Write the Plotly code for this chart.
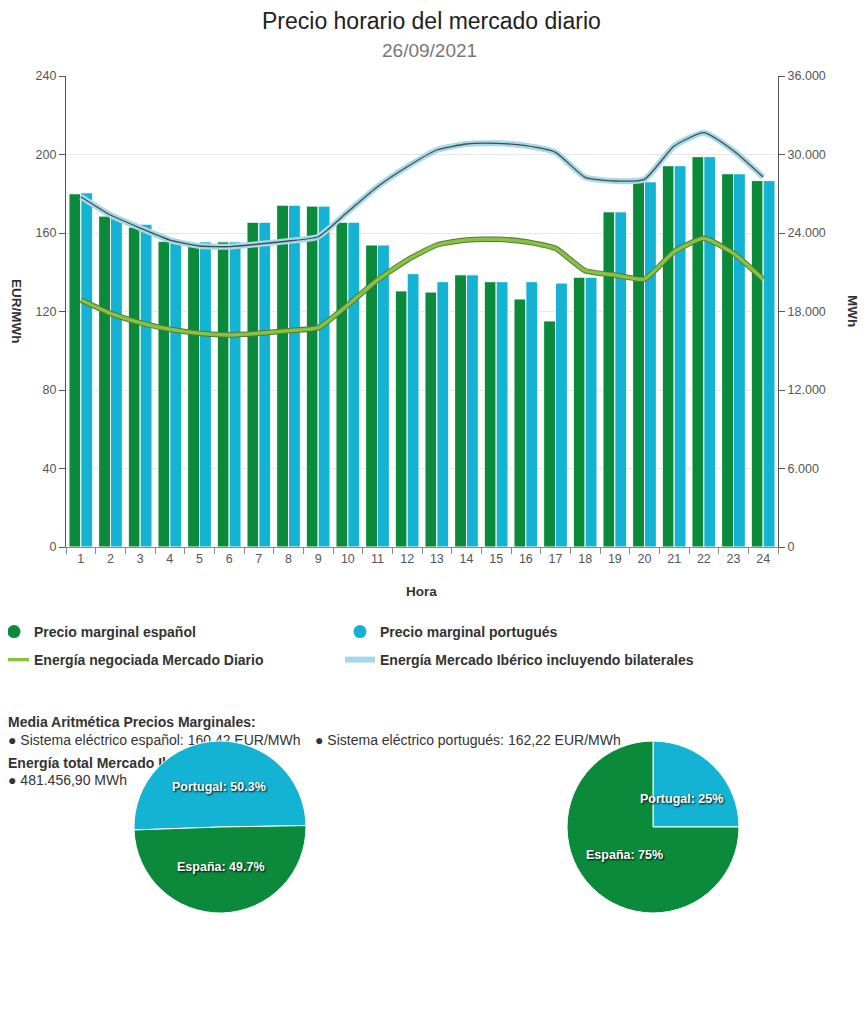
import math
import plotly.graph_objects as go

# the page body adds an 8px margin; the figure is sized to fit the 866x1024 window
OFF = 8
W, H = 866 - OFF, 1024 - OFF

# ---------------- data ----------------
horas = [str(h) for h in range(1, 25)]
precio_es = [180.0, 168.6, 163.0, 155.8, 154.3, 155.5, 165.5, 174.2, 173.7, 165.5, 153.9, 130.5,
             129.9, 138.7, 135.2, 126.4, 115.2, 137.5, 170.8, 186.1, 194.3, 198.9, 190.2, 186.7]
precio_pt = [180.5, 168.0, 164.5, 155.5, 155.5, 155.5, 165.5, 174.2, 173.7, 165.5, 153.9, 139.3,
             135.2, 138.7, 135.2, 135.2, 134.5, 137.5, 170.8, 186.1, 194.3, 198.9, 190.2, 186.7]
energia_diario = [18878, 17861, 17143, 16638, 16332, 16203, 16332, 16536, 16766, 18496, 20407, 21935,
                  23082, 23464, 23515, 23336, 22827, 21120, 20790, 20483, 22571, 23591, 22446, 20458]
energia_iberico = [26775, 25375, 24380, 23464, 23005, 22952, 23158, 23387, 23716, 25627, 27538, 29066,
                   30343, 30801, 30854, 30671, 30165, 28256, 27973, 28104, 30648, 31666, 30289, 28282]
left_ticks = [0, 40, 80, 120, 160, 200, 240]
right_ticks = [0, 6000, 12000, 18000, 24000, 30000, 36000]
right_ticklabels = ["0", "6.000", "12.000", "18.000", "24.000", "30.000", "36.000"]
pie_labels = ["Portugal", "España"]
pie1_values = [50.3, 49.7]
pie2_values = [25, 75]

titulo = "Precio horario del mercado diario"
subtitulo = "26/09/2021"
media_titulo = "Media Aritmética Precios Marginales:"
media_es = "● Sistema eléctrico español: 160,42 EUR/MWh"
media_pt = "● Sistema eléctrico portugués: 162,22 EUR/MWh"
energia_titulo = "Energía total Mercado Ibérico:"
energia_total = "● 481.456,90 MWh"

# ---------------- styles ----------------
GREEN = "#0b8a3c"
BLUE = "#14b3d4"
LGREEN = "#86c440"
LBLUE = "#a6d9e8"
FONT = "Liberation Sans"


def py(v):
    return 1 - (v - OFF) / H


def px(v):
    return (v - OFF) / W


fig = go.Figure()

fig.add_trace(go.Bar(x=horas, y=precio_es, name="Precio marginal español",
                     marker=dict(color=GREEN, line=dict(color="white", width=1)),
                     showlegend=False, xaxis="x", yaxis="y"))
fig.add_trace(go.Bar(x=horas, y=precio_pt, name="Precio marginal portugués",
                     marker=dict(color=BLUE, line=dict(color="white", width=1)),
                     showlegend=False, xaxis="x", yaxis="y"))

# lines (dark shadow + colored)
fig.add_trace(go.Scatter(x=horas, y=energia_diario, mode="lines",
                         line=dict(color="#56763a", width=5.5, shape="spline", smoothing=0.5),
                         showlegend=False, hoverinfo="skip", xaxis="x", yaxis="y3"))
fig.add_trace(go.Scatter(x=horas, y=energia_diario, mode="lines", name="Energía negociada Mercado Diario",
                         line=dict(color=LGREEN, width=3.5, shape="spline", smoothing=0.5),
                         legend="legend3", xaxis="x", yaxis="y3"))
fig.add_trace(go.Scatter(x=horas, y=energia_iberico, mode="lines", name="Energía Mercado Ibérico incluyendo bilaterales",
                         line=dict(color=LBLUE, width=6, shape="spline", smoothing=0.5),
                         legend="legend4", xaxis="x", yaxis="y3"))
fig.add_trace(go.Scatter(x=horas, y=energia_iberico, mode="lines",
                         line=dict(color="#454b50", width=1.3, shape="spline", smoothing=0.5),
                         showlegend=False, hoverinfo="skip", xaxis="x", yaxis="y3"))

# legend entries for the bar series (circle symbols)
fig.add_trace(go.Scatter(x=[None], y=[None], mode="markers", name="Precio marginal español",
                         marker=dict(color=GREEN, size=13, symbol="circle"), legend="legend",
                         xaxis="x", yaxis="y"))
fig.add_trace(go.Scatter(x=[None], y=[None], mode="markers", name="Precio marginal portugués",
                         marker=dict(color=BLUE, size=13, symbol="circle"), legend="legend2",
                         xaxis="x", yaxis="y"))

# text block (cartesian layer so the pies cover it); axes x2/y2 use page pixels
fig.add_trace(go.Scatter(
    x=[8, 8, 315, 8, 8], y=[723, 741, 741, 764, 781],
    text=["<b>" + media_titulo + "</b>", media_es, media_pt, "<b>" + energia_titulo + "</b>", energia_total],
    mode="text", textposition="middle right", showlegend=False, hoverinfo="skip",
    textfont=dict(family=FONT, size=14, color="#333333"),
    xaxis="x2", yaxis="y2", cliponaxis=False))

# pies
pie_specs = [
    (pie1_values, 268, (134, 306)),
    (pie2_values, 0, (567, 739)),
]
PIE_TOP, PIE_BOTTOM = 741, 913
pie_font = dict(family=FONT, size=12.5, color="white", weight="bold", shadow="1px 1px 2px #000")
pie_annotations = []
for values, rot, (x0, x1) in pie_specs:
    fig.add_trace(go.Pie(labels=pie_labels, values=values, sort=False, direction="clockwise",
                         rotation=rot, marker=dict(colors=[BLUE, GREEN], line=dict(color="white", width=1)),
                         textinfo="none", showlegend=False,
                         domain=dict(x=[px(x0), px(x1)], y=[py(PIE_BOTTOM), py(PIE_TOP)])))
    # data labels placed at each slice's mid-angle, inside the pie
    cx, cy = (x0 + x1) / 2, (PIE_TOP + PIE_BOTTOM) / 2
    total = sum(values)
    start = rot
    for lab, v in zip(pie_labels, values):
        mid = math.radians(start + 360 * v / total / 2)
        r = 40
        lx = cx + r * math.sin(mid)
        ly = cy - r * math.cos(mid)
        pct = 100 * v / total
        pct_txt = ("%.1f" % pct).rstrip("0").rstrip(".")
        pie_annotations.append(dict(text=f"{lab}: {pct_txt}%", x=px(lx), y=py(ly),
                                    xanchor="center", yanchor="middle",
                                    xref="paper", yref="paper", showarrow=False, font=pie_font))
        start += 360 * v / total

tickfont = dict(family=FONT, size=12.5, color="#555555")
axis_title_font = dict(family=FONT, size=13.5, color="#333333", weight="bold")
legend_font = dict(family=FONT, size=14, color="#333333", weight="bold")


def ann(text, x, y, font, angle=0):
    return dict(text=text, x=px(x), y=py(y), xref="paper", yref="paper", showarrow=False,
                xanchor="center", yanchor="middle", textangle=angle, font=font)


def leg(x, y):
    # x: page position of the legend box left edge
    return dict(orientation="h", x=px(x), y=py(y), xanchor="left", yanchor="middle",
                bgcolor="rgba(0,0,0,0)", font=legend_font)


fig.update_layout(
    width=W, height=H,
    margin=dict(l=0, r=0, t=0, b=0, autoexpand=False),
    paper_bgcolor="white", plot_bgcolor="rgba(0,0,0,0)",
    barmode="group", bargap=0.2, bargroupgap=0.0,
    font=dict(family=FONT, color="#333333"),
    xaxis=dict(domain=[px(66), px(778)], type="category", anchor="y",
               range=[-0.5, 23.5], showline=True, linecolor="#8a8a8a", linewidth=1,
               ticks="outside", tickson="boundaries", ticklen=6, tickcolor="#8a8a8a",
               tickfont=tickfont, showgrid=False, fixedrange=True, automargin=False),
    yaxis=dict(domain=[py(547), py(76)], range=[0, 240], tickvals=left_ticks, anchor="x",
               showline=True, linecolor="#555555", linewidth=1.2,
               ticks="outside", ticklen=6, tickcolor="#555555", tickfont=tickfont,
               showgrid=True, gridcolor="#e6e6e6", zeroline=False, fixedrange=True, automargin=False),
    yaxis3=dict(overlaying="y", side="right", anchor="x", range=[0, 36000],
                tickvals=right_ticks, ticktext=right_ticklabels,
                showline=True, linecolor="#555555", linewidth=1.2,
                ticks="outside", ticklen=6, tickcolor="#555555", tickfont=tickfont,
                showgrid=False, zeroline=False, fixedrange=True, automargin=False),
    xaxis2=dict(domain=[0, 1], range=[OFF, OFF + W], visible=False, anchor="y2", fixedrange=True),
    yaxis2=dict(domain=[0, 1], range=[OFF + H, OFF], visible=False, anchor="x2", fixedrange=True),
    legend=leg(-6, 632),
    legend2=leg(340, 632),
    legend3=leg(-6, 660),
    legend4=leg(340, 660),
    annotations=[
        ann(titulo, 431, 21, dict(family=FONT, size=23, color="#222222")),
        ann(subtitulo, 429, 50, dict(family=FONT, size=19, color="#777777")),
        ann("EUR/MWh", 17, 311, axis_title_font, 90),
        ann("MWh", 853, 311, axis_title_font, 90),
        ann("Hora", 421, 591, axis_title_font),
    ] + pie_annotations,
)

fig.write_html("out.html")
